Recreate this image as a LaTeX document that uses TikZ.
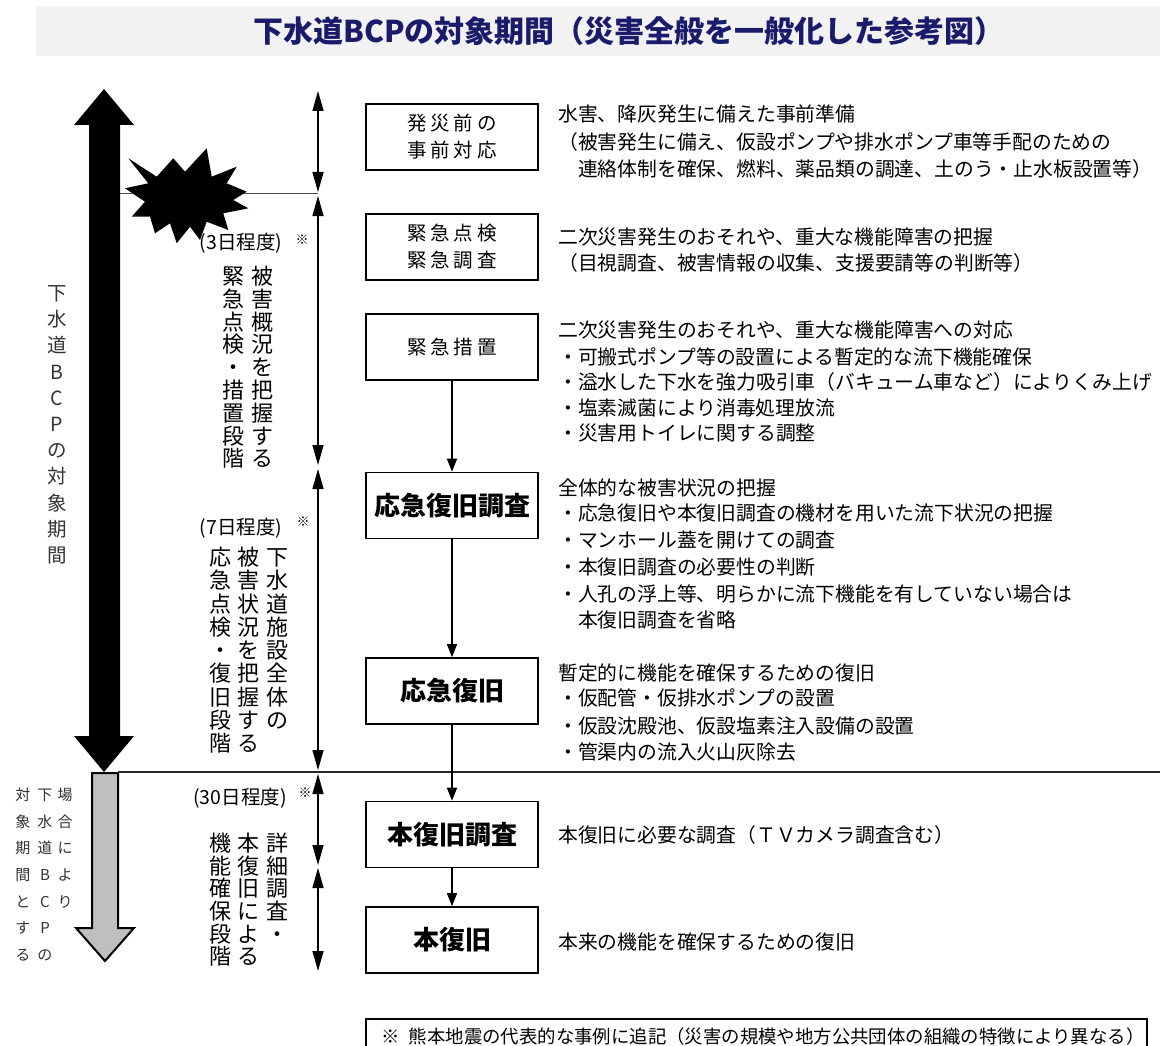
\documentclass[tikz,border=0pt]{standalone}
\usepackage{fontspec}
\setmainfont{Noto Sans CJK JP}
\usetikzlibrary{arrows.meta}
\definecolor{titlebg}{HTML}{F2F2F2}
\definecolor{titlefg}{HTML}{1B1B6B}
\definecolor{txtgray}{HTML}{333333}
\definecolor{arrgray}{HTML}{BFBFBF}
\newcommand\vcol[6]{%
  \foreach \c [count=\i] in {#6} {\node[#4] (#5-\i) at (#1,{#2+#3*(\i-1)}) {\c};}}
\begin{document}
\begin{tikzpicture}[x=1pt,y=-1pt,
  box/.style={draw, line width=1.6pt, fill=white, minimum width=172pt, minimum height=66pt, inner sep=0pt, align=center},
  boxr/.style={box, font=\fontsize{19.5}{27}\selectfont},
  boxb/.style={box, font=\fontsize{26}{30}\selectfont\bfseries},
  desc/.style={anchor=west, inner sep=0pt, font=\fontsize{19.8}{26}\selectfont, text height=17.4pt, text depth=2.4pt},
  flow/.style={line width=1.5pt, -{Triangle[length=13pt,width=10pt]}},
  dbl/.style={line width=1.5pt, {Triangle[length=20pt,width=11pt]}-{Triangle[length=20pt,width=11pt]}},
  vbig/.style={inner sep=0pt, font=\fontsize{22}{22}\selectfont, text height=19.4pt, text depth=2.6pt},
  vleft/.style={inner sep=0pt, font=\fontsize{19.5}{20}\selectfont, text=txtgray, text height=17.2pt, text depth=2.3pt},
  vsmall/.style={inner sep=0pt, font=\fontsize{15}{15}\selectfont, text=txtgray, text height=13.2pt, text depth=1.8pt},
  days/.style={inner sep=0pt, font=\fontsize{19.5}{20}\selectfont, text height=17.2pt, text depth=2.3pt},
  note/.style={inner sep=0pt, font=\fontsize{13}{13}\selectfont},
]
\useasboundingbox (0,0) rectangle (1160,1046);
\clip (0,0) rectangle (1160,1046);
\fill[white] (0,0) rectangle (1160,1046);

% title
\fill[titlebg] (36,6) rectangle (1160,56);
\node[font=\fontsize{30}{32}\selectfont\bfseries, text=titlefg] (title) at (629,31) {下水道BCPの対象期間（災害全般を一般化した参考図）};

% big black double arrow
\fill[black] (104,89) -- (134,125) -- (120,125) -- (120,736) -- (134,736) -- (104,772) -- (74,736) -- (89,736) -- (89,125) -- (74,125) -- cycle;

% horizontal lines
\coordinate (h1a) at (120,194); \coordinate (h1b) at (318,194);
\draw[line width=1pt, black!70] (h1a) -- (h1b);
\coordinate (h2a) at (118,772); \coordinate (h2b) at (1160,772);
\draw[line width=2pt, black!85] (h2a) -- (h2b);

% gray arrow
\filldraw[fill=arrgray, draw=black, line width=2pt] (92,773) -- (118,773) -- (118,928) -- (134,928) -- (105,961) -- (76,928) -- (92,928) -- cycle;

% explosion
\fill[black] (128.3,158.3) -- (156.7,176.7) -- (173.3,158.3) -- (185,171.7) -- (206.7,148.3) -- (211.7,176.7) -- (236.7,166.7) -- (226.7,183.3) -- (246.7,191.7) -- (233.3,200) -- (248.3,208.3) -- (223.3,213.3) -- (228.3,230) -- (206.7,221.7) -- (200,240) -- (190,226.7) -- (176.7,243.3) -- (170,223.3) -- (155,233.3) -- (150,216.7) -- (131.7,216.7) -- (145,201.7) -- (125,188.3) -- (148.3,183.3) -- cycle;

% period double arrows
\coordinate (u1) at (318,91);  \coordinate (l1) at (318,192);
\coordinate (u2) at (318,196); \coordinate (l2) at (318,465);
\coordinate (u3) at (318,469); \coordinate (l3) at (318,770);
\coordinate (u4) at (318,774); \coordinate (l4) at (318,865);
\coordinate (u5) at (318,868); \coordinate (l5) at (318,971);
\draw[dbl] (u1) -- (l1);
\draw[dbl] (u2) -- (l2);
\draw[dbl] (u3) -- (l3);
\draw[dbl] (u4) -- (l4);
\draw[dbl] (u5) -- (l5);

% boxes
\node[boxr] (b1) at (452,137) {発\kern4pt 災\kern4pt 前\kern4pt の\\事\kern4pt 前\kern4pt 対\kern4pt 応};
\node[boxr] (b2) at (452,247) {緊\kern4pt 急\kern4pt 点\kern4pt 検\\緊\kern4pt 急\kern4pt 調\kern4pt 査};
\node[boxr] (b3) at (452,347) {緊\kern4pt 急\kern4pt 措\kern4pt 置};
\node[boxb] (b4) at (452,505.5) {応急復旧調査};
\node[boxb] (b5) at (452,691) {応急復旧};
\node[boxb] (b6) at (452,834.5) {本復旧調査};
\node[boxb] (b7) at (452,940) {本復旧};

\draw[flow] (b3) -- (b4);
\draw[flow] (b4) -- (b5);
\draw[flow] (b5) -- (b6);
\draw[flow] (b6) -- (b7);

% descriptions
\node[desc] (d1a) at (558,114) {水害、降灰発生に備えた事前準備};
\node[desc] (d1b) at (558,142) {（被害発生に備え、仮設ポンプや排水ポンプ車等手配のための};
\node[desc] (d1c) at (558,169) {　連絡体制を確保、燃料、薬品類の調達、土のう・止水板設置等）};
\node[desc] (d2a) at (558,237) {二次災害発生のおそれや、重大な機能障害の把握};
\node[desc] (d2b) at (558,263) {（目視調査、被害情報の収集、支援要請等の判断等）};
\node[desc] (d3a) at (558,330) {二次災害発生のおそれや、重大な機能障害への対応};
\node[desc] (d3b) at (558,357) {・可搬式ポンプ等の設置による暫定的な流下機能確保};
\node[desc] (d3c) at (558,382) {・溢水した下水を強力吸引車（バキューム車など）によりくみ上げ};
\node[desc] (d3d) at (558,408) {・塩素滅菌により消毒処理放流};
\node[desc] (d3e) at (558,433) {・災害用トイレに関する調整};
\node[desc] (d4a) at (558,488) {全体的な被害状況の把握};
\node[desc] (d4b) at (558,513) {・応急復旧や本復旧調査の機材を用いた流下状況の把握};
\node[desc] (d4c) at (558,540) {・マンホール蓋を開けての調査};
\node[desc] (d4d) at (558,567) {・本復旧調査の必要性の判断};
\node[desc] (d4e) at (558,594) {・人孔の浮上等、明らかに流下機能を有していない場合は};
\node[desc] (d4f) at (558,620) {　本復旧調査を省略};
\node[desc] (d5a) at (558,673) {暫定的に機能を確保するための復旧};
\node[desc] (d5b) at (558,698) {・仮配管・仮排水ポンプの設置};
\node[desc] (d5c) at (558,726) {・仮設沈殿池、仮設塩素注入設備の設置};
\node[desc] (d5d) at (558,752) {・管渠内の流入火山灰除去};
\node[desc] (d6a) at (558,835) {本復旧に必要な調査（ＴＶカメラ調査含む）};
\node[desc] (d7a) at (558,942) {本来の機能を確保するための復旧};

% left big vertical label
\vcol{57}{293}{26.2}{vleft}{lv}{下,水,道,B,C,P,の,対,象,期,間}

% small vertical label
\vcol{65}{795}{26.6}{vsmall}{sa}{場,合,に,よ,り}
\vcol{45}{795}{26.6}{vsmall}{sb}{下,水,道,B,C,P,の}
\vcol{23}{795}{26.6}{vsmall}{sc}{対,象,期,間,と,す,る}

% phase 1
\node[days] (p1) at (241,242) {(3日程度)};
\node[note] (n1) at (302,240) {※};
\vcol{262}{276}{22.8}{vbig}{pa}{被,害,概,況,を,把,握,す,る}
\vcol{233}{276}{22.8}{vbig}{pb}{緊,急,点,検,・,措,置,段,階}

% phase 2
\node[days] (p2) at (241,527) {(7日程度)};
\node[note] (n2) at (303,522) {※};
\vcol{277}{557}{23.3}{vbig}{qa}{下,水,道,施,設,全,体,の}
\vcol{248}{557}{23.3}{vbig}{qb}{被,害,状,況,を,把,握,す,る}
\vcol{220}{557}{23.3}{vbig}{qc}{応,急,点,検,・,復,旧,段,階}

% phase 3
\node[days] (p3) at (240,797) {(30日程度)};
\node[note] (n3) at (305,793) {※};
\vcol{277}{843}{22.7}{vbig}{ra}{詳,細,調,査,・}
\vcol{248}{843}{22.7}{vbig}{rb}{本,復,旧,に,よ,る}
\vcol{220}{843}{22.7}{vbig}{rc}{機,能,確,保,段,階}

% footnote
\draw[line width=1.6pt] (366,1019) rectangle (1147,1070);
\node[anchor=west, inner sep=0pt, font=\fontsize{18.4}{20}\selectfont] (fn) at (381,1036) {※\hspace{0.5em}熊本地震の代表的な事例に追記（災害の規模や地方公共団体の組織の特徴により異なる）};
\end{tikzpicture}
\end{document}
